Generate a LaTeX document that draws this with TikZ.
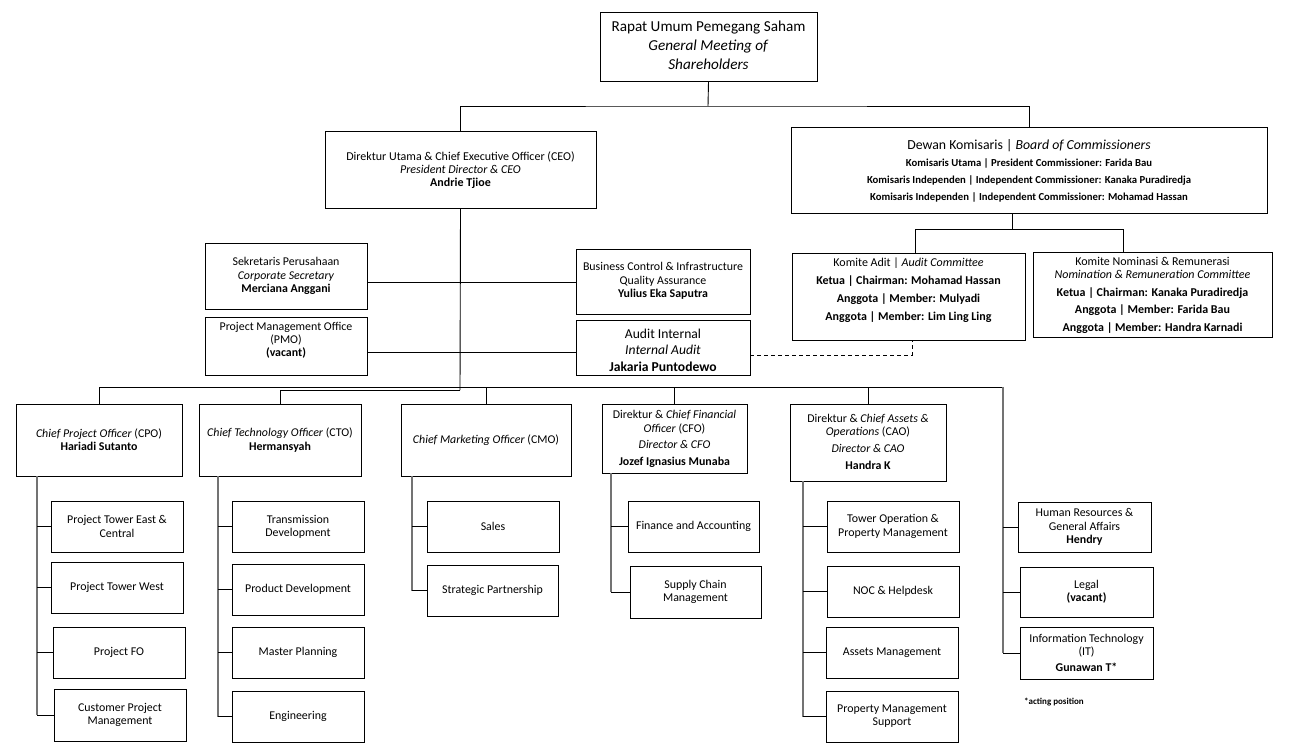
\documentclass[tikz,border=0pt]{standalone}
\usepackage{fontspec}
\setmainfont{Carlito}
\newcommand{\fs}[2]{\fontsize{#1}{#2}\selectfont}
\tikzset{
  bx/.style={draw=black,line width=0.9pt,rectangle,inner sep=0pt,fill=white},
  tx/.style={align=center,inner sep=0pt,font=\fs{11.9}{13.2},text=black},
  ln/.style={draw=black,line width=0.9pt},
  colv/.style={draw=black!55,line width=1.4pt},
}
\newcommand{\orgbox}[8][]{%
  \node[bx,minimum width={#5-#3},minimum height={#6-#4}] (#2) at ({(#3+#5)/2},{(#4+#6)/2}) {};
  \node[tx,#1] (#2-t) at ({(#3+#5)/2},{#7}) {#8};}
\begin{document}
\begin{tikzpicture}[x=1pt,y=-1pt]
\useasboundingbox (0,0) rectangle (1297,754);
\fill[white] (0,0) rectangle (1297,754);

% top level
\orgbox[font=\fs{15.2}{19}]{rups}{600}{12}{817}{81}{45}{Rapat Umum Pemegang Saham\\\textit{General Meeting of}\\\textit{Shareholders}}
\orgbox[font=\fs{12}{12.8}]{ceo}{325}{131}{596}{208}{170}{Direktur Utama \& Chief Executive Officer (CEO)\\\textit{President Director \& CEO}\\\textbf{Andrie Tjioe}}
\orgbox[font=\fs{10.7}{17}\bfseries]{boc}{791}{127}{1267}{213}{171}{{\mdseries\fs{13.8}{17}Dewan Komisaris | \textit{Board of Commissioners}}\\Komisaris Utama | President Commissioner: Farida Bau\\Komisaris Independen | Independent Commissioner: Kanaka Puradiredja\\Komisaris Independen | Independent Commissioner: Mohamad Hassan}

% committees
\orgbox[font=\fs{12}{18}\bfseries]{ac}{792}{253}{1025}{340}{290}{{\mdseries Komite Adit | \textit{Audit Committee}}\\Ketua | Chairman: Mohamad Hassan\\Anggota | Member: Mulyadi\\Anggota | Member: Lim Ling Ling}
\orgbox[font=\fs{12}{17.5}\bfseries]{nc}{1033}{252}{1272}{337}{295}{{\mdseries Komite Nominasi \& Remunerasi}\\[-4pt]{\mdseries\itshape Nomination \& Remuneration Committee}\\Ketua | Chairman: Kanaka Puradiredja\\Anggota | Member: Farida Bau\\Anggota | Member: Handra Karnadi}

% staff
\orgbox{sec}{205}{243}{367}{309}{276}{Sekretaris Perusahaan\\\textit{Corporate Secretary}\\\textbf{Merciana Anggani}}
\orgbox{pmo}{205}{317}{367}{375}{340}{Project Management Office\\(PMO)\\\textbf{(vacant)}}
\orgbox{bc}{576}{249}{750}{314}{281}{Business Control \& Infrastructure\\Quality Assurance\\\textbf{Yulius Eka Saputra}}
\orgbox[font=\fs{13.6}{16.5}]{ai}{576}{320}{750}{375}{350}{Audit Internal\\\textit{Internal Audit}\\\textbf{Jakaria Puntodewo}}

% chiefs
\orgbox{cpo}{16}{404}{182}{476}{439.5}{\textit{Chief Project Officer} (CPO)\\\textbf{Hariadi Sutanto}}
\orgbox{cto}{199}{404}{361}{476}{440}{\textit{Chief Technology Officer} (CTO)\\\textbf{Hermansyah}}
\orgbox{cmo}{401}{404}{571}{476}{440}{\textit{Chief Marketing Officer} (CMO)}
\orgbox{cfo}{602}{404}{747}{473}{439}{Direktur \& \textit{Chief Financial}\\\textit{Officer} (CFO)\\[3pt]\textit{Director \& CFO}\\[4pt]\textbf{Jozef Ignasius Munaba}}
\orgbox{cao}{790}{404}{946}{481}{442}{Direktur \& \textit{Chief Assets \&}\\\textit{Operations} (CAO)\\[3pt]\textit{Director \& CAO}\\[4pt]\textbf{Handra K}}

% CPO units
\orgbox{pte}{51}{501}{183}{552}{526.5}{Project Tower East \&\\Central}
\orgbox{ptw}{51}{562}{183}{613}{587.5}{Project Tower West}
\orgbox{pfo}{53}{627}{185}{678}{652.5}{Project FO}
\orgbox{cpm}{54}{689}{186}{741}{715}{Customer Project\\Management}
% CTO units
\orgbox{td}{232}{501}{364}{552}{526.5}{Transmission\\Development}
\orgbox{pd}{232}{564}{364}{615}{589.5}{Product Development}
\orgbox{mp}{232}{627}{364}{678}{652.5}{Master Planning}
\orgbox{eng}{232}{691}{364}{742}{716.5}{Engineering}
% CMO units
\orgbox{sales}{427}{501}{559}{552}{526.5}{Sales}
\orgbox{sp}{427}{565}{558}{616}{590.5}{Strategic Partnership}
% CFO units
\orgbox{fa}{628}{501}{759}{552}{526.5}{Finance and Accounting}
\orgbox{scm}{630}{566}{761}{618}{592}{Supply Chain\\Management}
% CAO units
\orgbox{to}{827}{501}{959}{552}{526.5}{Tower Operation \&\\Property Management}
\orgbox{noc}{827}{566}{959}{617}{591.5}{NOC \& Helpdesk}
\orgbox{am}{826}{627}{958}{678}{652.5}{Assets Management}
\orgbox{pms}{826}{691}{958}{742}{716.5}{Property Management\\Support}
% right units
\orgbox{hr}{1018}{502}{1151}{552}{527}{Human Resources \&\\General Affairs\\\textbf{Hendry}}
\orgbox{legal}{1020}{567}{1153}{617}{592}{Legal\\\textbf{(vacant)}}
\orgbox{it}{1020}{627}{1153}{679}{653}{Information Technology\\(IT)\\[3pt]\textbf{Gunawan T*}}
\node[anchor=west,inner sep=0pt,font=\fs{9}{10}\bfseries] (note) at (1024,702) {*acting position};

% connectors top
\coordinate (j1) at (708,106);
\draw[ln] (rups.south) -- (j1);
\draw[ln] (ceo.north) |- (j1) -| (boc.north);
\coordinate (j2) at (1012,229);
\coordinate (acin) at (915,229);
\coordinate (ncin) at (1123,229);
\draw[ln] (j2 |- boc.south) -- (j2);
\draw[ln] (acin |- ac.north) -- (acin) -- (ncin) -- (ncin |- nc.north);

% CEO spine and staff
\coordinate (j3) at (460,390);
\draw[ln] (ceo.south) -- (j3);
\coordinate (m1) at (460,282);
\coordinate (m2) at (460,352);
\draw[ln] (sec.east |- m1) -- (bc.west |- m1);
\draw[ln] (pmo.east |- m2) -- (ai.west |- m2);
\coordinate (d1) at (912,355);
\draw[ln,dashed,dash pattern=on 4pt off 3pt] (ai.east |- d1) -- (d1) -- (d1 |- ac.south);

% chiefs bus
\coordinate (rr) at (1003,387);
\draw[ln] (cpo.north) |- (rr);
\draw[ln] (cto.north) |- (j3);
\draw[ln] (cmo.north) -- (cmo.north |- rr);
\draw[ln] (cfo.north) -- (cfo.north |- rr);
\draw[ln] (cao.north) -- (cao.north |- rr);

% columns
\coordinate (c1) at (37,0);
\draw[colv] (c1 |- cpo.south) -- (c1 |- cpm.west);
\foreach \b in {pte,ptw,pfo,cpm} \draw[ln] (c1 |- \b.west) -- (\b.west);
\coordinate (c2) at (218,0);
\draw[colv] (c2 |- cto.south) -- (c2 |- eng.west);
\foreach \b in {td,pd,mp,eng} \draw[ln] (c2 |- \b.west) -- (\b.west);
\coordinate (c3) at (412,0);
\draw[colv] (c3 |- cmo.south) -- (c3 |- sp.west);
\foreach \b in {sales,sp} \draw[ln] (c3 |- \b.west) -- (\b.west);
\coordinate (c4) at (611,0);
\draw[colv] (c4 |- cfo.south) -- (c4 |- scm.west);
\foreach \b in {fa,scm} \draw[ln] (c4 |- \b.west) -- (\b.west);
\coordinate (c5) at (803,0);
\draw[colv] (c5 |- cao.south) -- (c5 |- pms.west);
\foreach \b in {to,noc,am,pms} \draw[ln] (c5 |- \b.west) -- (\b.west);
\draw[colv] (rr) -- (rr |- it.west);
\foreach \b in {hr,legal,it} \draw[ln] (rr |- \b.west) -- (\b.west);
\end{tikzpicture}
\end{document}
